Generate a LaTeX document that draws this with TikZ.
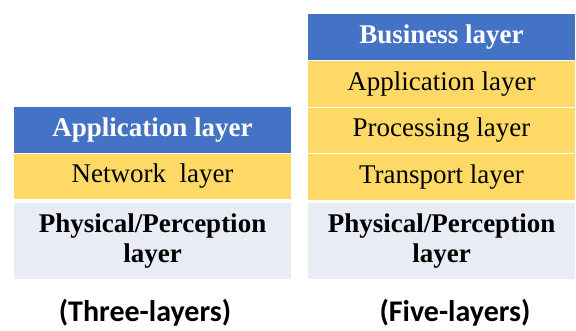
\documentclass[tikz,border=0pt]{standalone}
\usepackage{fontspec}
\setmainfont{Liberation Serif}
\newfontfamily\captionfont{Carlito}
\definecolor{layerblue}{HTML}{4472C4}
\definecolor{layeryellow}{HTML}{FFD966}
\definecolor{layergrey}{HTML}{E9EBF5}
\tikzset{
	layer/.style={draw=white,line width=1.2pt,inner sep=0pt,align=center,font=\fontsize{27}{30}\selectfont},
	toplayer/.style={layer,fill=layerblue,text=white,font=\bfseries\fontsize{27}{30}\selectfont},
	midlayer/.style={layer,fill=layeryellow},
	baselayer/.style={layer,fill=layergrey,font=\bfseries\fontsize{27}{30}\selectfont},
	modelname/.style={font=\captionfont\bfseries\fontsize{30}{33}\selectfont}
}
\begin{document}
\begin{tikzpicture}[x=1pt,y=1pt]
	\useasboundingbox (0,0) rectangle (576,330);
	% three-layer model
	\node[toplayer,minimum width=279,minimum height=46.5] (three3) at (152.5,200) {Application layer};
	\node[midlayer,minimum width=279,minimum height=46.5] (three2) at (152.5,153.5) {Network\ \ layer};
	\node[baselayer,minimum width=279,minimum height=78] (three1) at (152.5,89) {Physical/Perception\\layer};
	\node[modelname] (threename) at (145,17) {(Three-layers)};
	% five-layer model
	\node[toplayer,minimum width=269,minimum height=46.5] (five5) at (441.5,293) {Business layer};
	\foreach[count=\i] \n in {Transport,Processing,Application} {
			\node[midlayer,minimum width=269,minimum height=46.5] (five\i) at (441.5,106.5+46.5*\i) {\n\ layer};
		}
	\node[baselayer,minimum width=269,minimum height=78] (five0) at (441.5,89) {Physical/Perception\\layer};
	\node[modelname] (fivename) at (455,17) {(Five-layers)};
\end{tikzpicture}
\end{document}
